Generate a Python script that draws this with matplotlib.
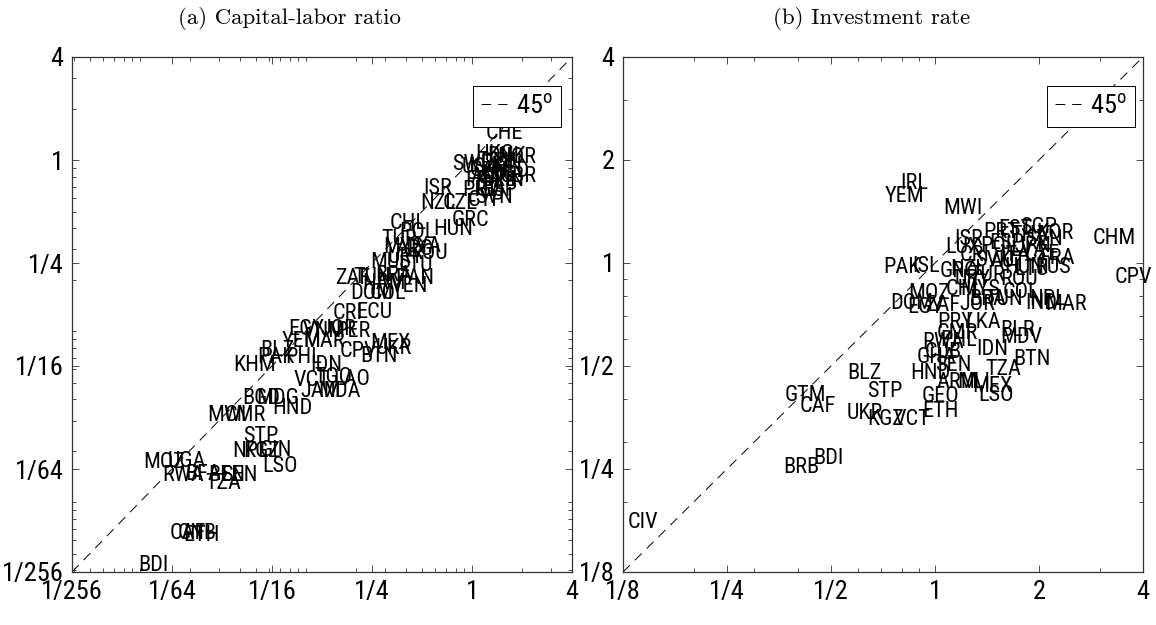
import numpy as np
import matplotlib
matplotlib.use('Agg')
import matplotlib.pyplot as plt
from matplotlib import font_manager
from matplotlib.ticker import FixedLocator, FixedFormatter, LogLocator, NullFormatter

# ---------------- data ----------------
a_codes = ["IRL", "LUX", "CHE", "HKG", "DNK", "NOR", "SWE", "USA", "CAN", "JPN", "AUS", "NLD",
           "BEL", "AUT", "FIN", "FRA", "DEU", "ITA", "GBR", "ESP", "ISR", "PRT", "NZL", "CZE",
           "CYP", "SVN", "GRC", "CHL", "POL", "HUN", "TUR", "MYS", "ARG", "LVA", "ROU", "URY",
           "MUS", "LTU", "ZAF", "TUN", "BRA", "PAN", "VEN", "NAM", "DOM", "COL", "CRI", "ECU",
           "EGY", "VNM", "JOR", "PER", "MEX", "UKR", "BTN", "CPV", "YEM", "MAR", "BLZ", "PAK",
           "PHL", "IDN", "KHM", "VCT", "TGO", "LAO", "JAM", "MDA", "BGD", "MDG", "HND", "MWI",
           "CMR", "STP", "NPL", "KGZ", "GIN", "LSO", "MOZ", "UGA", "RWA", "BFA", "BEN", "TZA",
           "SEN", "CAF", "GNB", "ETH", "BDI"]
a_x = [1.0, 1.03, 1.21, 1.04, 1.23, 1.41, 0.758, 0.87, 0.973, 1.20, 1.09, 1.32,
       1.16, 0.973, 1.36, 0.908, 1.12, 1.04, 1.47, 1.15, 0.507, 0.87, 0.486, 0.669,
       0.946, 1.04, 0.758, 0.321, 0.364, 0.582, 0.283, 0.291, 0.344, 0.395, 0.423, 0.312,
       0.243, 0.358, 0.150, 0.192, 0.261, 0.344, 0.321, 0.218, 0.184, 0.243, 0.144, 0.200,
       0.078, 0.095, 0.122, 0.150, 0.243, 0.264, 0.212, 0.160, 0.0718, 0.096, 0.053, 0.0508,
       0.0748, 0.106, 0.0364, 0.0837, 0.113, 0.146, 0.092, 0.118, 0.0412, 0.050, 0.0625, 0.0254,
       0.0326, 0.0418, 0.0359, 0.0418, 0.053, 0.0544, 0.0105, 0.0148, 0.0136, 0.0187, 0.0257, 0.0247,
       0.0308, 0.0152, 0.0170, 0.0182, 0.0098]
a_y = [1.96, 1.71, 1.42, 1.07, 1.055, 1.03, 0.935, 0.898, 0.874, 0.922, 0.828, 0.851,
       0.764, 0.785, 0.764, 0.754, 0.961, 0.705, 0.806, 0.667, 0.686, 0.659, 0.560, 0.560,
       0.576, 0.600, 0.440, 0.428, 0.379, 0.390, 0.341, 0.306, 0.298, 0.314, 0.286, 0.268,
       0.253, 0.243, 0.204, 0.207, 0.212, 0.204, 0.183, 0.189, 0.165, 0.165, 0.126, 0.128,
       0.102, 0.100, 0.102, 0.100, 0.085, 0.0786, 0.0707, 0.0755, 0.0865, 0.0865, 0.0775, 0.0697,
       0.0697, 0.0632, 0.0632, 0.0511, 0.0532, 0.0518, 0.0441, 0.0441, 0.0406, 0.0406, 0.0354, 0.0319,
       0.0319, 0.0241, 0.0197, 0.0197, 0.0200, 0.0161, 0.0171, 0.0174, 0.0143, 0.0145, 0.0143, 0.0129,
       0.0143, 0.0066, 0.0066, 0.0064, 0.00425]

b_codes = ["IRL", "YEM", "MWI", "KOR", "CHM", "CPV", "PAK", "ISL", "MOZ", "DOM", "EGY", "ZAF",
           "PRY", "LKA", "BLR", "CMR", "MDV", "RWA", "PHL", "IDN", "GHA", "CUB", "SEN", "BTN",
           "BLZ", "HND", "TZA", "ARM", "MLI", "MEX", "GEO", "LSO", "ETH", "STP", "UKR", "KGZ",
           "VCT", "GTM", "CAF", "BRB", "BDI", "CIV", "PRT", "EST", "THA", "SGP", "ESP", "JPN",
           "CZE", "LUX", "CRI", "SVK", "GRC", "AUT", "RUS", "HUN", "LTU", "NZL", "ROU", "URY",
           "TUR", "COL", "MYS", "IND", "MAR", "NPL", "TUN", "JOR", "BRA", "CHL", "POL", "ISR",
           "ITA", "FRA", "LVA", "SVN"]
b_x = [0.792, 0.717, 1.055, 1.97, 2.85, 3.32, 0.707, 0.858, 0.835, 0.741, 0.830, 0.936,
       1.013, 1.22, 1.54, 1.013, 1.54, 0.917, 1.034, 1.32, 0.887, 0.936, 1.0, 1.68,
       0.556, 0.847, 1.40, 1.013, 1.16, 1.28, 0.917, 1.33, 0.917, 0.636, 0.556, 0.636,
       0.756, 0.368, 0.407, 0.363, 0.444, 0.129, 1.38, 1.52, 1.65, 1.76, 1.44, 1.70,
       1.82, 1.07, 1.18, 1.31, 1.034, 1.44, 1.95, 1.59, 1.70, 1.105, 1.54, 1.14,
       1.26, 1.57, 1.18, 1.82, 2.08, 1.88, 1.40, 1.18, 1.26, 1.07, 1.35, 1.14,
       1.54, 2.01, 1.65, 1.82]
b_y = [1.71, 1.56, 1.44, 1.22, 1.18, 0.904, 0.973, 0.980, 0.817, 0.764, 0.739, 0.749,
       0.672, 0.672, 0.637, 0.624, 0.604, 0.584, 0.595, 0.557, 0.531, 0.549, 0.503, 0.521,
       0.474, 0.474, 0.490, 0.446, 0.446, 0.437, 0.406, 0.409, 0.369, 0.420, 0.362, 0.350,
       0.348, 0.409, 0.380, 0.252, 0.268, 0.174, 1.23, 1.25, 1.20, 1.27, 1.14, 1.12,
       1.06, 1.11, 1.055, 1.02, 0.942, 1.007, 0.973, 0.967, 0.954, 0.954, 0.892, 0.892,
       0.922, 0.822, 0.834, 0.759, 0.754, 0.780, 0.780, 0.754, 0.780, 0.834, 1.12, 1.17,
       1.055, 1.03, 1.09, 1.17]

a_ticks = [1/256, 1/64, 1/16, 1/4, 1, 4]
a_ticklabels = ["1/256", "1/64", "1/16", "1/4", "1", "4"]
b_ticks = [1/8, 1/4, 1/2, 1, 2, 4]
b_ticklabels = ["1/8", "1/4", "1/2", "1", "2", "4"]
titles = ["(a) Capital-labor ratio", "(b) Investment rate"]
legend_label = "45$^\\mathregular{o}$"

# ---------------- style ----------------
names = {f.name for f in font_manager.fontManager.ttflist}
SANS = 'Liberation Sans'
NARROW = False
for cand in ['Liberation Sans Narrow', 'Arial Narrow', 'Roboto Condensed']:
    if cand in names:
        SANS = cand
        NARROW = True
        break
LABEL_FS = 16 if NARROW else 13.5
TICK_FS = 19 if NARROW else 17.5
LEG_FS = 19 if NARROW else 18
TITLE_FAMILY = ['cmr10', 'DejaVu Serif']

plt.rcParams['lines.scale_dashes'] = False

W, H = 1156, 625
fig = plt.figure(figsize=(W / 100, H / 100), dpi=100)

ax_a = fig.add_axes([72 / W, (H - 572) / H, 500 / W, 515 / H])
ax_b = fig.add_axes([623 / W, (H - 572) / H, 520 / W, 515 / H])

panels = [
    (ax_a, a_codes, a_x, a_y, a_ticks, a_ticklabels, (561 - 72) / 500),
    (ax_b, b_codes, b_x, b_y, b_ticks, b_ticklabels, (1135 - 623) / 520),
]

for ax, codes, xs, ys, ticks, tlabels, leg_x in panels:
    lo, hi = ticks[0], ticks[-1]
    ax.set_xscale('log', base=2)
    ax.set_yscale('log', base=2)
    ax.set_xlim(lo, hi)
    ax.set_ylim(lo, hi)
    ax.plot([lo, hi], [lo, hi], color='black', lw=0.7, dashes=(7, 5), label=legend_label)
    for c, x, y in zip(codes, xs, ys):
        ax.text(x, y, c, ha='left', va='center', fontsize=LABEL_FS, family=SANS,
                color='black', clip_on=False)
    for axis in (ax.xaxis, ax.yaxis):
        axis.set_major_locator(FixedLocator(ticks))
        axis.set_major_formatter(FixedFormatter(tlabels))
        axis.set_minor_locator(LogLocator(base=10, subs=np.arange(1, 10), numticks=100))
        axis.set_minor_formatter(NullFormatter())
    ax.tick_params(which='both', direction='in', top=True, right=True, color='#333333', width=0.6)
    ax.tick_params(which='major', length=5, labelsize=TICK_FS, pad=6)
    ax.tick_params(which='minor', length=3)
    for lab in ax.get_xticklabels() + ax.get_yticklabels():
        lab.set_family(SANS)
    for s in ax.spines.values():
        s.set_color('#333333')
        s.set_linewidth(0.9)
    leg = ax.legend(loc='upper right', bbox_to_anchor=(leg_x, 1 - (86 - 57) / 515),
                    fancybox=False, frameon=True, framealpha=1,
                    edgecolor='black', handlelength=1.0, handletextpad=0.35,
                    borderpad=0.3, borderaxespad=0.0,
                    prop={'family': SANS, 'size': LEG_FS})
    leg.get_frame().set_linewidth(0.7)

fig.text(289 / W, 1 - 19 / H, titles[0], ha='center', va='center', fontsize=16.5, family=TITLE_FAMILY)
fig.text(872 / W, 1 - 19 / H, titles[1], ha='center', va='center', fontsize=16.5, family=TITLE_FAMILY)

fig.savefig('out.png', dpi=100)
